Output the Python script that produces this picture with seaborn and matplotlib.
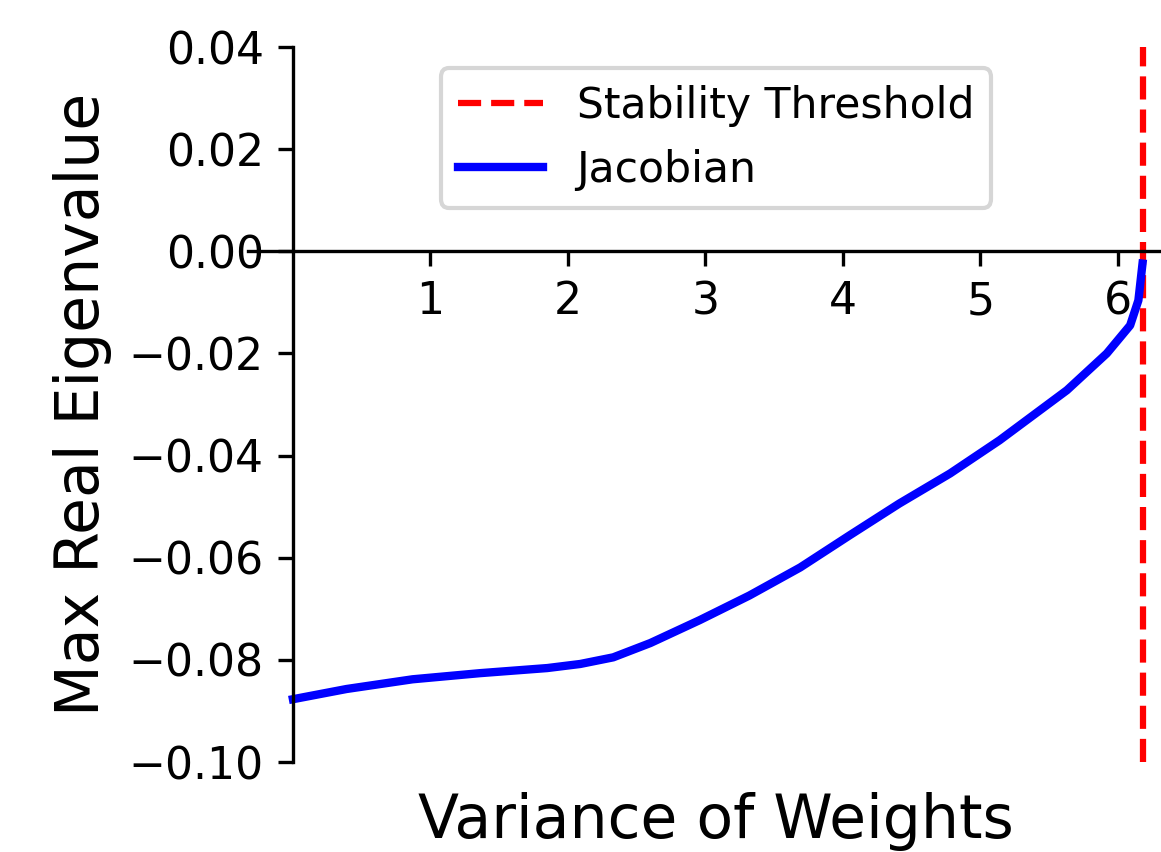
import numpy as np
import pandas as pd
import seaborn as sns
import matplotlib.pyplot as plt

# values
variance = [0.0, 0.39, 0.87, 1.36, 1.85, 2.09, 2.33, 2.60, 2.96, 3.32,
            3.69, 4.05, 4.41, 4.78, 5.14, 5.63, 5.92, 6.09, 6.15, 6.18]
max_eig = [-0.0877, -0.0857, -0.0838, -0.0826, -0.0816, -0.0808, -0.0795,
           -0.0767, -0.0722, -0.0674, -0.0619, -0.0556, -0.0494, -0.0435,
           -0.0370, -0.0272, -0.0200, -0.0145, -0.0096, -0.0024]
threshold = 6.18
x_ticks = [1, 2, 3, 4, 5, 6]
y_ticks = [-0.10, -0.08, -0.06, -0.04, -0.02, 0.00, 0.02, 0.04]

data = pd.DataFrame({"variance": variance, "max_eig": max_eig})

fig = plt.figure(figsize=(1161 / 300, 852 / 300), dpi=300)
ax = fig.add_axes([0.2136, 0.1056, 0.806, 0.8392])

ax.axvline(threshold, color="red", linestyle="--", linewidth=1.5,
           label="Stability Threshold")
sns.lineplot(data=data, x="variance", y="max_eig", color="blue",
             linewidth=2, label="Jacobian", ax=ax)

ax.set_xlim(-0.327, 6.48)
ax.set_ylim(-0.10, 0.04)
ax.set_xticks(x_ticks)
ax.set_yticks(y_ticks)
ax.tick_params(labelsize=10.6)

ax.spines["left"].set_position("zero")
ax.spines["bottom"].set_position("zero")
ax.spines["top"].set_visible(False)
ax.spines["right"].set_visible(False)

ax.set_xlabel("Variance of Weights", fontsize=14.4)
ax.set_ylabel("Max Real Eigenvalue", fontsize=14.4)
ax.xaxis.set_label_coords(0.5, -0.042)

ax.legend(loc="upper center", fontsize=10.2)

fig.savefig("out.png", dpi=300)
